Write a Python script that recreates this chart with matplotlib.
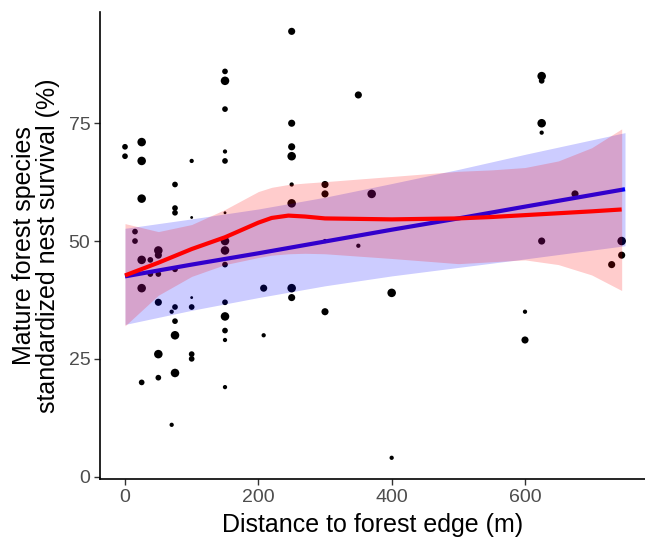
import matplotlib.pyplot as plt
import numpy as np

plt.rcParams['font.family'] = ['Liberation Sans', 'DejaVu Sans']

# nest survival points: distance (m), survival (%), point size class
dist = [150, 150, 150, 0, 0, 25, 25, 100, 150, 150,
        75, 25, 75, 75, 100, 150, 15, 15, 50, 50,
        25, 38, 38, 50, 75, 150, 150, 150, 25, 208,
        50, 100, 75, 70, 100, 150, 150, 75, 75, 150,
        150, 208, 50, 100, 100, 75, 25, 50, 150, 70,
        250, 350, 250, 250, 250, 250, 300, 300, 370, 250,
        300, 350, 250, 250, 300, 400, 400, 625, 625, 625,
        625, 675, 625, 745, 745, 730, 600, 600]
surv = [86, 84, 78, 70, 68, 71, 67, 67, 69, 67,
        62, 59, 57, 56, 55, 56, 52, 50, 48, 47,
        46, 46, 43, 43, 44, 50, 48, 45, 40, 40,
        37, 38, 36, 35, 36, 37, 34, 33, 30, 31,
        29, 30, 26, 26, 25, 22, 20, 21, 19, 11,
        94.5, 81, 75, 70, 68, 62, 62, 60, 60, 58,
        50, 49, 40, 38, 35, 39, 4, 85, 84, 75,
        73, 60, 50, 50, 47, 45, 35, 29]
size_cls = [2, 3, 2, 2, 2, 3, 3, 1.5, 1.5, 2,
            2, 3, 2, 2, 1, 1, 2, 2, 3, 2.5,
            3, 2, 2, 2, 2, 3, 3, 2, 3, 2.5,
            2.5, 1, 2, 1.5, 2, 2, 3, 2, 3, 2,
            1.5, 1.5, 3, 2, 2, 3, 2, 2, 1.5, 1.5,
            2.5, 2.5, 2.5, 2.5, 3, 1.5, 2.5, 2.5, 3, 3,
            1.5, 1.5, 3, 2.5, 2.5, 3, 1.5, 3, 2, 3,
            1.5, 2.5, 2.5, 3, 2.5, 2.5, 1.5, 2.5]

# linear fit (blue)
lin_x = [0, 100, 200, 300, 400, 500, 600, 750]
lin_y = [42.5, 45.0, 47.4, 49.9, 52.4, 54.8, 57.3, 61.0]
lin_lo = [32.3, 35.3, 38.0, 40.5, 42.6, 44.4, 46.2, 49.0]
lin_hi = [52.7, 54.7, 56.8, 59.3, 62.2, 65.2, 68.4, 73.0]

# loess fit (red)
lo_x = [0, 50, 100, 150, 200, 220, 245, 270, 300, 400, 500, 550, 600, 650, 700, 745]
lo_y = [42.7, 45.4, 48.3, 50.8, 53.9, 54.9, 55.4, 55.2, 54.8, 54.6, 54.8, 55.1, 55.5, 55.9, 56.3, 56.7]
lo_lo = [32.0, 38.5, 42.5, 45.0, 46.5, 47.0, 47.3, 47.4, 47.3, 46.3, 45.2, 45.6, 46.0, 45.0, 42.8, 39.5]
lo_hi = [53.7, 52.0, 53.5, 56.7, 60.5, 61.4, 62.0, 62.3, 62.6, 63.7, 64.8, 65.1, 65.6, 67.0, 69.8, 73.8]

W, H = 645, 539
fig = plt.figure(figsize=(W / 100, H / 100), dpi=100)
ax = fig.add_axes([100 / W, (H - 479) / H, (W - 100) / W, 466.5 / H])

ax.scatter(dist, surv, s=np.array(size_cls) ** 2 * 4.2, color='black',
           linewidths=0, zorder=1)

ax.fill_between(lin_x, lin_lo, lin_hi, color='blue', alpha=0.2, linewidth=0, zorder=2)
ax.plot(lin_x, lin_y, color='blue', lw=3, solid_capstyle='butt', zorder=3)
ax.fill_between(lo_x, lo_lo, lo_hi, color='red', alpha=0.2, linewidth=0, zorder=4)
ax.plot(lo_x, lo_y, color='red', lw=3, solid_capstyle='butt', zorder=5)

ax.set_xlim(-37.5, 780)
ax.set_ylim(-0.5, 98.5)
ax.set_xticks([0, 200, 400, 600])
ax.set_yticks([0, 25, 50, 75])

for s in ['top', 'right']:
    ax.spines[s].set_visible(False)
for s in ['left', 'bottom']:
    ax.spines[s].set_linewidth(1.2)
ax.tick_params(length=4, width=1, color='#333333', labelsize=14,
               labelcolor='#4D4D4D', pad=3)

ax.set_xlabel('Distance to forest edge (m)', fontsize=18, labelpad=5)
ax.set_ylabel('Mature forest species\nstandardized nest survival (%)',
              fontsize=18, labelpad=6, linespacing=1.0)

fig.savefig('out.png', dpi=100)
